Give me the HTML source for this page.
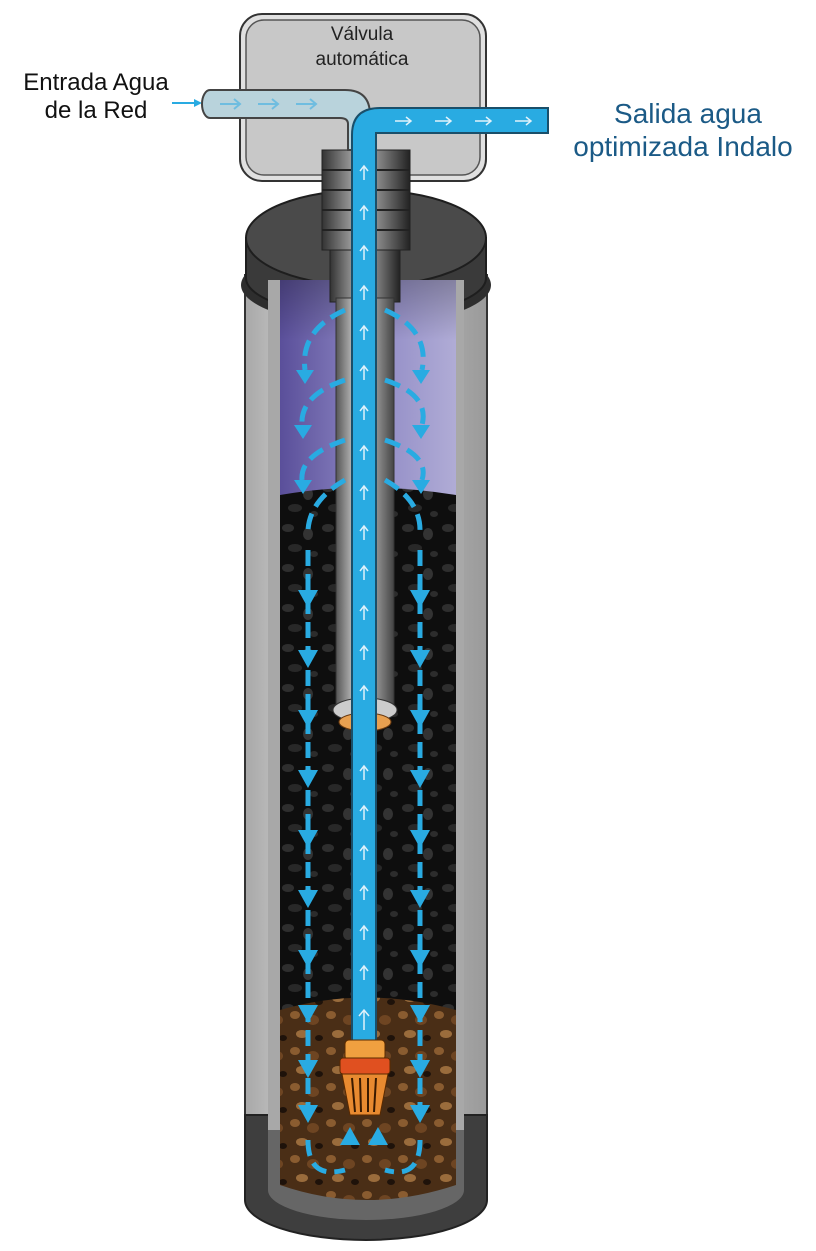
<!DOCTYPE html>
<html><head><meta charset="utf-8"><style>
html,body{margin:0;padding:0;background:#fff;}
svg{display:block;}
text{font-family:"Liberation Sans",sans-serif;}
</style></head><body>
<svg width="816" height="1251" viewBox="0 0 816 1251">
<defs>
<linearGradient id="body" x1="0" x2="1"><stop offset="0" stop-color="#a8a8a8"/><stop offset="0.3" stop-color="#d8d8d8"/><stop offset="1" stop-color="#9a9a9a"/></linearGradient>
<linearGradient id="purple" x1="0" x2="1"><stop offset="0" stop-color="#5a4f9a"/><stop offset="0.5" stop-color="#8e88c4"/><stop offset="1" stop-color="#b0acd6"/></linearGradient>
<linearGradient id="purpleV" x1="0" y1="0" x2="0" y2="1"><stop offset="0" stop-color="#000" stop-opacity="0.25"/><stop offset="1" stop-color="#000" stop-opacity="0"/></linearGradient>
<linearGradient id="tube" x1="0" x2="1"><stop offset="0" stop-color="#555"/><stop offset="0.4" stop-color="#ddd"/><stop offset="1" stop-color="#444"/></linearGradient>
<linearGradient id="neck" x1="0" x2="1"><stop offset="0" stop-color="#333"/><stop offset="0.45" stop-color="#bbb"/><stop offset="1" stop-color="#222"/></linearGradient>
<pattern id="blackmedia" width="40" height="40" patternUnits="userSpaceOnUse"><rect width="40" height="40" fill="#0e0e0e"/><ellipse cx="8" cy="8" rx="6" ry="4" fill="#2e2e2e"/><ellipse cx="28" cy="14" rx="5" ry="6" fill="#333"/><ellipse cx="15" cy="28" rx="7" ry="4" fill="#282828"/><ellipse cx="34" cy="34" rx="4" ry="3" fill="#2c2c2c"/></pattern>
<pattern id="brownmedia" width="36" height="36" patternUnits="userSpaceOnUse"><rect width="36" height="36" fill="#4a2e16"/><ellipse cx="7" cy="7" rx="5" ry="4" fill="#8a5c30"/><ellipse cx="25" cy="12" rx="6" ry="5" fill="#6e4522"/><ellipse cx="14" cy="26" rx="6" ry="4" fill="#9a6c3c"/><ellipse cx="31" cy="30" rx="4" ry="3" fill="#1e120a"/></pattern>
<marker id="ah" viewBox="0 0 10 10" refX="5" refY="5" markerWidth="4" markerHeight="4" orient="auto"><path d="M0,0 L10,5 L0,10 z" fill="#29abe2"/></marker>
</defs>

<g>
<rect x="240" y="14" width="246" height="167" rx="22" fill="#e0e0e0" stroke="#333" stroke-width="2"/>
<rect x="246" y="20" width="234" height="155" rx="18" fill="#c8c8c8" stroke="#555" stroke-width="1.5"/>
<text x="362" y="40" font-size="19" text-anchor="middle" fill="#222">Válvula</text>
<text x="362" y="65" font-size="19" text-anchor="middle" fill="#222">automática</text>
</g>

<text x="96" y="90" font-size="24" text-anchor="middle" fill="#111">Entrada Agua</text>
<text x="96" y="118" font-size="24" text-anchor="middle" fill="#111">de la Red</text>
<line x1="172" y1="103" x2="198" y2="103" stroke="#29abe2" stroke-width="2" marker-end="url(#ah)"/>

<text x="688" y="123" font-size="28" text-anchor="middle" fill="#1b5a86">Salida agua</text>
<text x="683" y="156" font-size="28" text-anchor="middle" fill="#1b5a86">optimizada Indalo</text>

<g>
<rect x="245" y="275" width="242" height="850" fill="url(#body)" stroke="#333" stroke-width="2"/>
<path d="M245,1115 L245,1200 A121,40 0 0 0 487,1200 L487,1115 Z" fill="#3e3e3e" stroke="#222" stroke-width="2"/>
<path d="M268,1120 L268,1190 A98,30 0 0 0 464,1190 L464,1120 Z" fill="#666"/>
<ellipse cx="366" cy="285" rx="125" ry="40" fill="#2e2e2e"/>
<path d="M246,238 L246,278 A120,38 0 0 0 486,278 L486,238 Z" fill="#3a3a3a" stroke="#1e1e1e" stroke-width="2"/>
<ellipse cx="366" cy="238" rx="120" ry="48" fill="#4a4a4a" stroke="#1e1e1e" stroke-width="2"/>
<rect x="268" y="280" width="196" height="850" fill="#a8a8a8"/>
</g>

<g>
<rect x="280" y="280" width="176" height="215" fill="url(#purple)"/>
<rect x="280" y="280" width="176" height="60" fill="url(#purpleV)"/>
<path d="M280,495 Q366,480 456,495 L456,1010 L280,1010 Z" fill="url(#blackmedia)"/>
<path d="M280,1010 Q366,985 456,1010 L456,1185 Q366,1215 280,1185 Z" fill="url(#brownmedia)"/>
</g>

<g>
<rect x="322" y="150" width="88" height="100" fill="url(#neck)" stroke="#222"/>
<g stroke="#222" stroke-width="2"><line x1="322" y1="170" x2="410" y2="170"/><line x1="322" y1="190" x2="410" y2="190"/><line x1="322" y1="210" x2="410" y2="210"/><line x1="322" y1="230" x2="410" y2="230"/></g>
<rect x="330" y="250" width="70" height="52" fill="url(#neck)" stroke="#222"/>
</g>

<rect x="336" y="298" width="58" height="412" fill="url(#tube)" stroke="#333"/>
<ellipse cx="365" cy="710" rx="32" ry="12" fill="#ccc" stroke="#333"/>
<ellipse cx="365" cy="722" rx="26" ry="9" fill="#e8a050" stroke="#6a3a10"/>

<path d="M210,90 L345,90 Q370,90 370,115 L370,150 L348,150 L348,124 Q348,118 340,118 L210,118 A8,14 0 0 1 210,90 Z" fill="#b9d3dc" stroke="#444" stroke-width="2"/>
<path d="M352,1045 L352,135 Q352,108 380,108 L548,108 L548,133 L376,133 Q376,133 376,140 L376,1045 Z" fill="#29abe2" stroke="#1a4f6a" stroke-width="2"/>

<g fill="none" stroke="#dff1fa" stroke-width="1.5">
<path d="M220,104 h20 m-6,-5 l6,5 l-6,5 M258,104 h20 m-6,-5 l6,5 l-6,5 M296,104 h20 m-6,-5 l6,5 l-6,5" stroke="#6fbde0" stroke-width="2"/>
<path d="M395,121 h16 m-5,-4 l5,4 l-5,4 M435,121 h16 m-5,-4 l5,4 l-5,4 M475,121 h16 m-5,-4 l5,4 l-5,4 M515,121 h16 m-5,-4 l5,4 l-5,4"/>
<path d="M364,1030 v-20 m-5,6 l5,-6 l5,6"/>
<path d="M364,180 v-14 m-4,5 l4,-5 l4,5 M364,220 v-14 m-4,5 l4,-5 l4,5 M364,260 v-14 m-4,5 l4,-5 l4,5 M364,300 v-14 m-4,5 l4,-5 l4,5 M364,340 v-14 m-4,5 l4,-5 l4,5 M364,380 v-14 m-4,5 l4,-5 l4,5 M364,420 v-14 m-4,5 l4,-5 l4,5 M364,460 v-14 m-4,5 l4,-5 l4,5 M364,500 v-14 m-4,5 l4,-5 l4,5 M364,540 v-14 m-4,5 l4,-5 l4,5 M364,580 v-14 m-4,5 l4,-5 l4,5 M364,620 v-14 m-4,5 l4,-5 l4,5 M364,660 v-14 m-4,5 l4,-5 l4,5 M364,700 v-14 m-4,5 l4,-5 l4,5"/>
<path d="M364,780 v-14 m-4,5 l4,-5 l4,5 M364,820 v-14 m-4,5 l4,-5 l4,5 M364,860 v-14 m-4,5 l4,-5 l4,5 M364,900 v-14 m-4,5 l4,-5 l4,5 M364,940 v-14 m-4,5 l4,-5 l4,5 M364,980 v-14 m-4,5 l4,-5 l4,5"/>
</g>

<g fill="none" stroke="#29abe2" stroke-width="5" stroke-dasharray="16,8">
<path d="M345,310 Q300,330 305,370 M385,310 Q430,330 422,370 M345,380 Q300,395 302,425 M385,380 Q430,395 422,425 M345,440 Q300,455 302,480 M385,440 Q430,455 422,480 M345,480 Q310,500 308,530 M385,480 Q420,500 420,530"/>
<path d="M308,550 V1110"/><path d="M420,550 V1110"/>
<path d="M308,1140 Q308,1180 345,1170 M420,1140 Q420,1180 385,1170"/>
</g>
<g fill="#29abe2">
<path d="M296,370 h18 l-9,14z M412,370 h18 l-9,14z M294,425 h18 l-9,14z M412,425 h18 l-9,14z M294,480 h18 l-9,14z M412,480 h18 l-9,14z"/>
<path d="M298,590 h20 l-10,18z M410,590 h20 l-10,18z M298,650 h20 l-10,18z M410,650 h20 l-10,18z M298,710 h20 l-10,18z M410,710 h20 l-10,18z M298,770 h20 l-10,18z M410,770 h20 l-10,18z M298,830 h20 l-10,18z M410,830 h20 l-10,18z M298,890 h20 l-10,18z M410,890 h20 l-10,18z M298,950 h20 l-10,18z M410,950 h20 l-10,18z M298,1005 h20 l-10,18z M410,1005 h20 l-10,18z M298,1060 h20 l-10,18z M410,1060 h20 l-10,18z M298,1105 h20 l-10,18z M410,1105 h20 l-10,18z"/>
<path d="M340,1145 h20 l-10,-18z M368,1145 h20 l-10,-18z"/>
</g>

<g>
<rect x="345" y="1040" width="40" height="20" rx="4" fill="#f0a040" stroke="#5a2a00"/>
<rect x="340" y="1058" width="50" height="16" rx="3" fill="#e05020" stroke="#5a2a00"/>
<path d="M342,1074 L388,1074 L380,1115 L350,1115 Z" fill="#e88a30" stroke="#5a2a00"/>
<g stroke="#3a1a00" stroke-width="2"><line x1="352" y1="1078" x2="355" y2="1112"/><line x1="360" y1="1078" x2="361" y2="1112"/><line x1="368" y1="1078" x2="368" y2="1112"/><line x1="376" y1="1078" x2="374" y2="1112"/></g>
</g>
</svg>
</body></html>
